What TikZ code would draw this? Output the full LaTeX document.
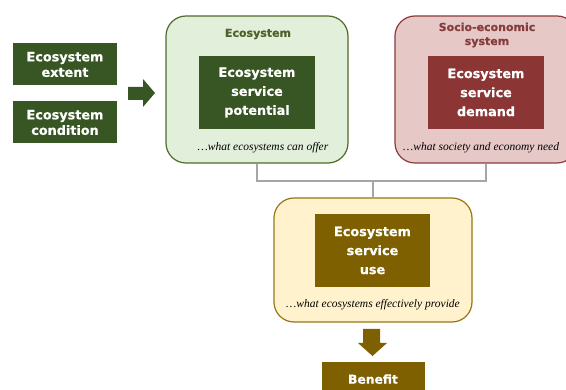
\documentclass[tikz,border=0pt]{standalone}
\usepackage{fontspec}
\newfontfamily\boxfont{DejaVu Sans}[BoldFeatures={FakeBold=0.6}]
\newfontfamily\notefont{Liberation Serif}
\definecolor{ecodark}{HTML}{375623}
\definecolor{ecoline}{HTML}{4E6B2A}
\definecolor{ecolight}{HTML}{E2EFDA}
\definecolor{ecotitle}{HTML}{4F6228}
\definecolor{socdark}{HTML}{8B3535}
\definecolor{socline}{HTML}{8B3A3A}
\definecolor{soclight}{HTML}{E6C9C7}
\definecolor{soctitle}{HTML}{843C3C}
\definecolor{usedark}{HTML}{7F6000}
\definecolor{useline}{HTML}{977614}
\definecolor{uselight}{HTML}{FFF2CC}
\definecolor{connector}{HTML}{A6A6A6}
\begin{document}
\begin{tikzpicture}[x=1pt,y=-1pt,
  frame/.style={draw, line width=1.2pt, rounded corners=20pt, inner sep=0pt},
  solid box/.style={inner sep=0pt, text=white, align=center,
    font=\boxfont\bfseries\fontsize{12.8}{19}\selectfont},
  side box/.style={solid box, fill=ecodark, minimum width=104pt, minimum height=42pt,
    font=\boxfont\bfseries\fontsize{12.8}{15.5}\selectfont},
  title/.style={align=center, inner sep=0pt,
    font=\boxfont\bfseries\fontsize{11}{14}\selectfont},
  note/.style={inner sep=0pt, font=\notefont\itshape\fontsize{11.5}{13}\selectfont},
  conn/.style={draw=connector, line width=1.5pt}]
\clip (0,0) rectangle (566,390);

% inputs on the left
\node[side box] (extent) at (65,64.5) {Ecosystem\\extent};
\node[side box] (condition) at (65,122.5) {Ecosystem\\condition};
\fill[ecodark] (128,87) -- (143,87) -- (143,79) -- (155,93) -- (143,107)
  -- (143,100) -- (128,100) -- cycle;

% ecosystem side
\node[frame, draw=ecoline, fill=ecolight, minimum width=182pt, minimum height=147pt]
  (eco) at (257,89.5) {};
\node[title, text=ecotitle] (ecotitle) at (258,34) {Ecosystem};
\node[solid box, fill=ecodark, minimum width=116pt, minimum height=73pt]
  (potential) at (257,92.5) {Ecosystem\\service\\potential};
\node[note] (ecooffer) at (263,148) {\dots what ecosystems can offer};

% socio-economic side
\node[frame, draw=socline, fill=soclight, minimum width=182pt, minimum height=147pt]
  (socio) at (486,89.5) {};
\node[title, text=soctitle] (soctitle) at (487,35) {Socio-economic\\system};
\node[solid box, fill=socdark, minimum width=116pt, minimum height=73pt]
  (demand) at (486,92.5) {Ecosystem\\service\\demand};
\node[note, anchor=west] (socneed) at (403,148) {\dots what society and economy need};

% use
\node[frame, draw=useline, fill=uselight, minimum width=198pt, minimum height=124pt]
  (use) at (373,260) {};
\node[solid box, fill=usedark, minimum width=115pt, minimum height=73pt]
  (usebox) at (372.5,250.5) {Ecosystem\\service\\use};
\node[note] (useprovide) at (373,305) {\dots what ecosystems effectively provide};

% connectors
\coordinate (bus) at (373,181);
\draw[conn] (eco.south) |- (bus) -| (socio.south);
\draw[conn] (bus) -- (use.north);

% benefit
\fill[usedark] (363,329) -- (380,329) -- (380,343) -- (387,343) -- (372.5,356)
  -- (358,343) -- (363,343) -- cycle;
\node[solid box, fill=usedark, minimum width=103pt, minimum height=34pt,
  font=\boxfont\bfseries\fontsize{12.3}{14}\selectfont, text depth=0pt]
  (benefit) at (373,379) {Benefit};
\end{tikzpicture}
\end{document}
